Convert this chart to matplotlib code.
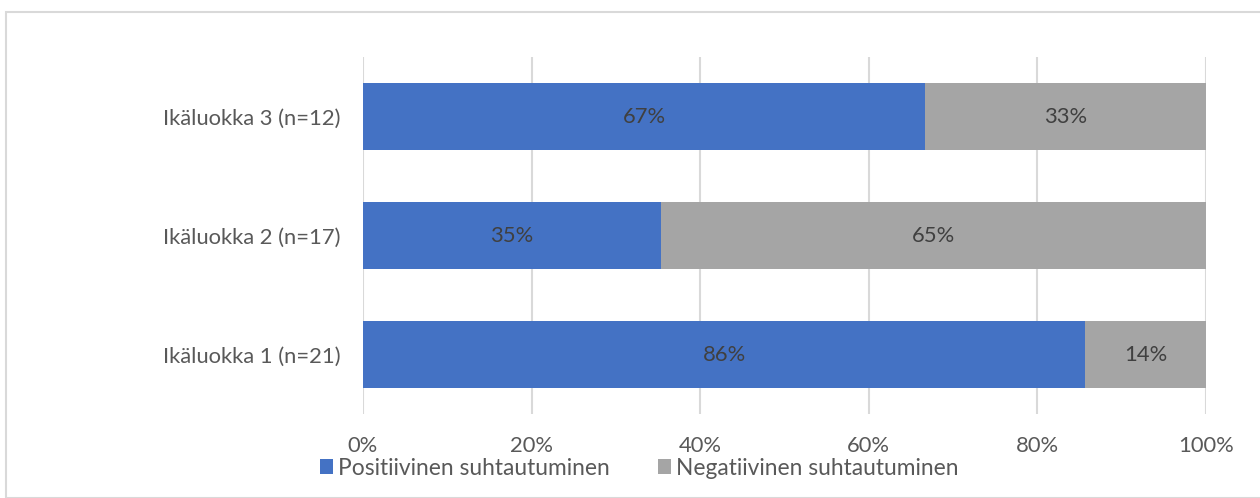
import matplotlib
matplotlib.use("Agg")
import matplotlib.pyplot as plt
from matplotlib.patches import Rectangle

# Survey results per age group
categories = ["Ikäluokka 1 (n=21)", "Ikäluokka 2 (n=17)", "Ikäluokka 3 (n=12)"]
positive = [85.7, 35.3, 66.7]
negative = [14.3, 64.7, 33.3]
series_names = ["Positiivinen suhtautuminen", "Negatiivinen suhtautuminen"]
x_ticks = [0, 20, 40, 60, 80, 100]
x_tick_labels = ["0%", "20%", "40%", "60%", "80%", "100%"]

BLUE = "#4472C4"
GRAY = "#A5A5A5"
TEXT = "#595959"
LABEL = "#404040"
GRID = "#D9D9D9"
FS = 15.8

plt.rcParams["font.family"] = ["Lato", "DejaVu Sans"]

W, H = 1260, 498
fig = plt.figure(figsize=(W / 100, H / 100), dpi=100)

# Chart area border (open toward the right and bottom edges)
fig.patches.append(Rectangle((6 / W, 0), 1.0, (H - 12) / H, transform=fig.transFigure,
                             fill=False, edgecolor="#D9D9D9", linewidth=1.5))

ax = fig.add_axes([363 / W, (H - 414) / H, 843 / W, 357 / H])

y = range(len(categories))
bar_h = 0.57
b1 = ax.barh(y, positive, height=bar_h, color=BLUE, label=series_names[0], zorder=3)
b2 = ax.barh(y, negative, left=positive, height=bar_h, color=GRAY, label=series_names[1], zorder=3)

for bars, vals, lefts in ((b1, positive, [0] * 3), (b2, negative, positive)):
    for i, (v, l) in enumerate(zip(vals, lefts)):
        ax.text(l + v / 2, i, f"{v:.0f}%", ha="center", va="center",
                fontsize=FS, color=LABEL, zorder=4)

ax.set_xlim(0, 100)
ax.set_ylim(-0.5, 2.5)
ax.set_yticks(list(y))
ax.set_yticklabels(categories, fontsize=FS, color=TEXT)
ax.set_xticks(x_ticks)
ax.set_xticklabels(x_tick_labels, fontsize=FS, color=TEXT)
ax.tick_params(axis="both", length=0)
ax.tick_params(axis="y", pad=16)
ax.tick_params(axis="x", pad=16)
ax.xaxis.grid(True, color=GRID, linewidth=1.5, zorder=0)
for s in ax.spines.values():
    s.set_visible(False)

leg = fig.legend(handles=[b1, b2], loc="center", bbox_to_anchor=(639 / W, (H - 468) / H),
                 ncol=2, frameon=False, fontsize=16.4, handlelength=0.6, handleheight=0.6,
                 handletextpad=0.2, columnspacing=2.1, borderaxespad=0, borderpad=0)
for t in leg.get_texts():
    t.set_color(TEXT)

fig.savefig("out.png", dpi=100, facecolor="white")
